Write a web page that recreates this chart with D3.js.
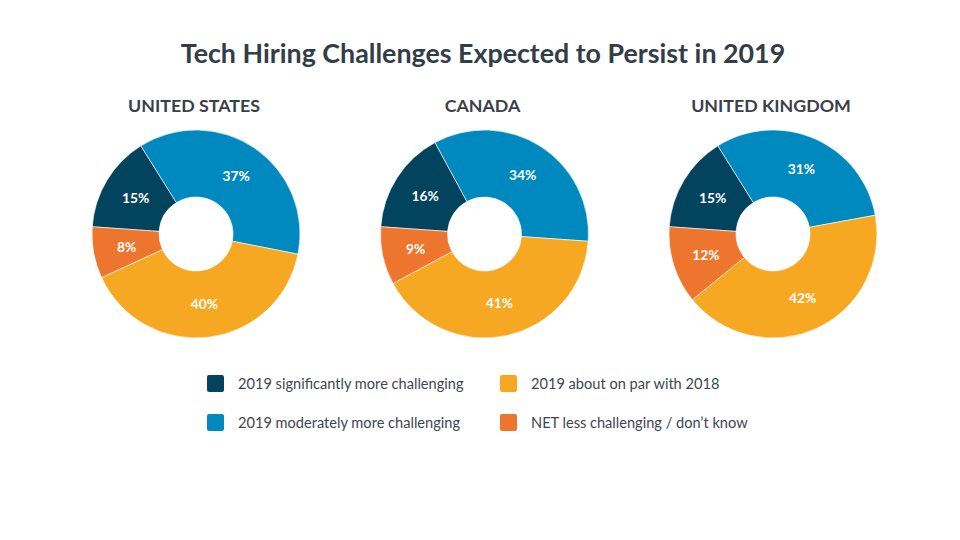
<!DOCTYPE html>
<html>
<head>
<meta charset="utf-8">
<script src="https://cdn.jsdelivr.net/npm/d3@7"></script>
<style>
  body { margin: 0; background: #ffffff; }
  svg { display: block; font-family: Lato, "Open Sans", sans-serif; }
</style>
</head>
<body>
<svg id="chart" width="960" height="540"></svg>
<script>
var countries = ['UNITED STATES', 'CANADA', 'UNITED KINGDOM'];
var categories = [
  '2019 significantly more challenging',
  '2019 moderately more challenging',
  '2019 about on par with 2018',
  'NET less challenging / don\u2019t know'
];
var us_values = [15, 37, 40, 8];
var canada_values = [16, 34, 41, 9];
var uk_values = [15, 31, 42, 12];
var colors = ['#02435e', '#0089bf', '#f7a823', '#ed752e'];

var svg = d3.select('#chart');

var color = d3.scaleOrdinal()
    .domain(categories)
    .range(colors);

// horizontal position of each donut
var x = d3.scalePoint()
    .domain(countries)
    .range([196, 773]);

var outer_radius = 104;
var inner_radius = 37;
var center_y = 234;

svg.append('text')
    .attr('x', 483)
    .attr('y', 63)
    .attr('text-anchor', 'middle')
    .attr('fill', '#333d47')
    .attr('font-size', 26.8)
    .attr('font-weight', 'bold')
    .text('Tech Hiring Challenges Expected to Persist in 2019');

var pie = d3.pie()
    .sort(null)
    .value(function(d) { return d.value; })
    .startAngle(-86 * Math.PI / 180)
    .endAngle(274 * Math.PI / 180);

var arc = d3.arc()
    .innerRadius(inner_radius)
    .outerRadius(outer_radius);

var draw_donut = function(country, values) {
  var g = svg.append('g')
      .attr('transform', 'translate(' + x(country) + ',' + center_y + ')');

  var data = values.map(function(v, i) {
    return {category: categories[i], value: v};
  });

  svg.append('text')
      .attr('x', x(country) - 2)
      .attr('y', 112)
      .attr('text-anchor', 'middle')
      .attr('fill', '#3a4049')
      .attr('font-size', 17.8)
      .attr('font-weight', 'bold')
      .text(country);

  var slices = g.selectAll('path')
      .data(pie(data))
      .enter()
      .append('path')
      .attr('d', arc)
      .attr('fill', function(d) { return color(d.data.category); })
      .attr('stroke', '#ffffff')
      .attr('stroke-width', 0.6);

  g.selectAll('text')
      .data(pie(data))
      .enter()
      .append('text')
      .attr('transform', function(d) { return 'translate(' + arc.centroid(d) + ')'; })
      .attr('dy', '0.35em')
      .attr('text-anchor', 'middle')
      .attr('fill', '#ffffff')
      .attr('font-size', 13.8)
      .attr('font-weight', 'bold')
      .text(function(d) { return d.data.value + '%'; });
}

draw_donut(countries[0], us_values);
draw_donut(countries[1], canada_values);
draw_donut(countries[2], uk_values);

// legend, two columns
var legend = svg.append('g');
var items = legend.selectAll('g')
    .data(categories)
    .enter()
    .append('g')
    .attr('transform', function(d, i) {
      var lx = i < 2 ? 207 : 500;
      var ly = (i % 2 === 0) ? 375 : 414;
      return 'translate(' + lx + ',' + ly + ')';
    });

items.append('rect')
    .attr('width', 17)
    .attr('height', 17)
    .attr('rx', 2)
    .attr('fill', function(d) { return color(d); });

items.append('text')
    .attr('x', 31)
    .attr('y', 9)
    .attr('dy', '0.35em')
    .attr('fill', '#3e4650')
    .attr('font-size', 14.6)
    .text(function(d) { return d; });
</script>
</body>
</html>
